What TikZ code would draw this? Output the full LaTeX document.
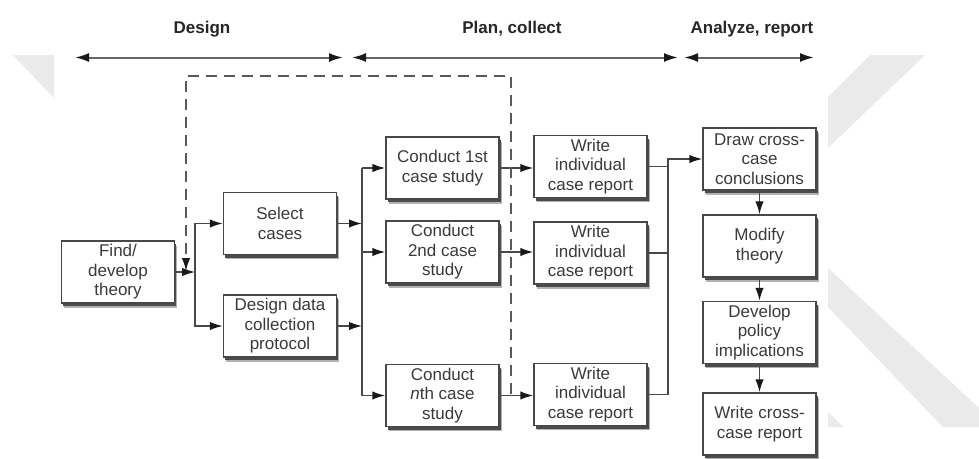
\documentclass[tikz,border=0pt]{standalone}
\usepackage{fontspec}
\setmainfont{Liberation Sans}
\usetikzlibrary{arrows.meta,calc}
\definecolor{ink}{HTML}{3A3A3A}
\definecolor{edge}{HTML}{484848}
\definecolor{wm}{HTML}{EAEAEA}

\begin{document}
\begin{tikzpicture}[x=1pt,y=-1pt,
  stepbox/.style={draw=edge, line width=1.5pt, fill=white,
    minimum width=113pt, minimum height=62pt, inner sep=0pt,
    align=center, text=ink, font=\fontsize{17}{19.5}\selectfont,
    preaction={fill=black!30, transform canvas={xshift=2.5pt,yshift=-4.5pt}},
    preaction={fill=black!70, transform canvas={xshift=1.5pt,yshift=-3pt}}},
  tip/.style={-{Latex[length=13pt,width=8.5pt,color=black!90]}},
  conn/.style={draw=edge, line width=1.5pt, tip},
  plain/.style={draw=edge, line width=1.5pt},
  feedback/.style={draw=black!65, line width=1.4pt, dash pattern=on 11pt off 7pt, tip},
  phase/.style={draw=black!60, line width=2pt,
    {Latex[length=14pt,width=9pt,color=black!90]}-{Latex[length=14pt,width=9pt,color=black!90]}},
  phasetext/.style={anchor=base, text=black!85, font=\bfseries\fontsize{17}{20}\selectfont}]

% canvas and faint logo shapes in the margins
\fill[white] (0,0) rectangle (979,458);
\useasboundingbox (0,0) rectangle (979,458);
\fill[wm] (13,55) -- (54,55) -- (54,98) -- cycle;
\fill[wm] (870,55) -- (925,55) -- (828,148) -- (828,97) -- cycle;
\fill[wm] (828,268) -- (979,408) -- (979,427) -- (943,427) -- (828,307) -- cycle;
\fill[wm] (828,412) -- (843,427) -- (828,427) -- cycle;

% phase headings
\node[phasetext] (hdesign) at (202,33) {Design};
\node[phasetext] (hplan) at (512,33) {Plan, collect};
\node[phasetext] (hanalyze) at (752,33) {Analyze, report};
\coordinate (dL) at (75,57.5);  \coordinate (dR) at (343,57.5);
\coordinate (pL) at (352,57.5); \coordinate (pR) at (678,57.5);
\coordinate (aL) at (684,57.5); \coordinate (aR) at (814,57.5);
\draw[phase] (dL) -- (dR);
\draw[phase] (pL) -- (pR);
\draw[phase] (aL) -- (aR);

% steps
\node[stepbox] (find) at (118,272) {Find/\\develop\\theory};
\node[stepbox] (select) at (280,223.5) {Select\\cases};
\node[stepbox] (design) at (280,326) {Design data\\collection\\protocol};
\node[stepbox] (c1) at (442.5,168) {Conduct 1st\\case study};
\node[stepbox] (c2) at (442.5,252) {Conduct\\2nd case\\study};
\node[stepbox] (cn) at (442.5,395.5) {Conduct\\\textit{n}th case\\study};
\node[stepbox] (w1) at (590.5,166.5) {Write\\individual\\case report};
\node[stepbox] (w2) at (590.5,253) {Write\\individual\\case report};
\node[stepbox] (wn) at (590.5,394.5) {Write\\individual\\case report};
\node[stepbox] (cross) at (759.5,159) {Draw cross-\\case\\conclusions};
\node[stepbox] (modify) at (759.5,246) {Modify\\theory};
\node[stepbox] (policy) at (759.5,332.5) {Develop\\policy\\implications};
\node[stepbox] (report) at (759.5,424) {Write cross-\\case report};

% junction columns
\coordinate (j1) at (195,272);
\coordinate (j2) at (362,0);
\coordinate (j3) at (668,0);

% design stage
\draw[conn] (find.east) -- (j1);
\draw[conn] (j1) |- (select.west);
\draw[conn] (j1) |- (design.west);

% into the case studies
\draw[conn] (select.east) -- (select.east -| j2);
\draw[conn] (design.east) -- (design.east -| j2);
\draw[plain] (c1.west -| j2) -- (cn.west -| j2);
\draw[conn] (c1.west -| j2) -- (c1.west);
\draw[conn] (c2.west -| j2) -- (c2.west);
\draw[conn] (cn.west -| j2) -- (cn.west);

% case study to individual report
\draw[conn] (c1.east) -- (c1.east -| w1.west);
\draw[conn] (c2.east) -- (c2.east -| w2.west);
\draw[conn] (cn.east) -- (cn.east -| wn.west);

% reports gathered into cross-case analysis
\draw[plain] (w1.east) -- (w1.east -| j3);
\draw[plain] (w2.east) -- (w2.east -| j3);
\draw[conn] (wn.east) -- (wn.east -| j3) -- (cross.west -| j3) -- (cross.west);
\draw[conn] (cross.south) -- (modify.north);
\draw[conn] (modify.south) -- (policy.north);
\draw[conn] (policy.south) -- (report.north);

% feedback loop
\coordinate (fbA) at (511,394);
\coordinate (fbB) at (511,76);
\coordinate (fbC) at (186,76);
\coordinate (fbD) at (186,271);
\draw[feedback] (fbA) -- (fbB) -- (fbC) -- (fbD);

\end{tikzpicture}
\end{document}
